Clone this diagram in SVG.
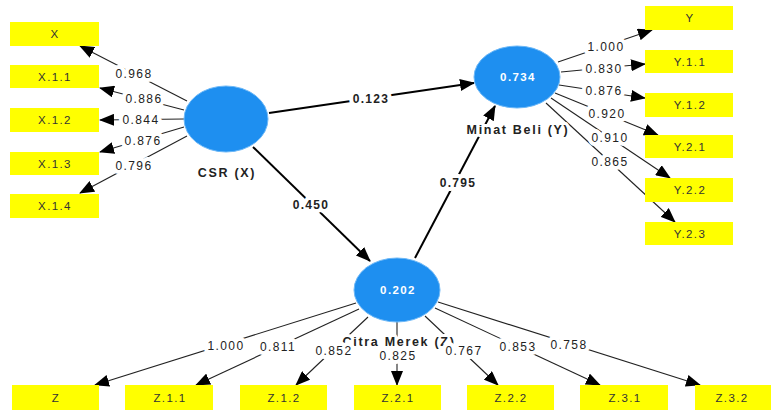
<svg xmlns="http://www.w3.org/2000/svg" width="771" height="410" viewBox="0 0 771 410">
<defs>
<marker id="ah" markerUnits="userSpaceOnUse" markerWidth="15" markerHeight="12" viewBox="0 0 15 12" refX="14" refY="6" orient="auto">
<path d="M0,0 L15,6 L0,12 Z" fill="#000"/>
</marker>
<style>
.box{fill:#ffff00;}
.bt{font-family:"Liberation Sans",Arial,sans-serif;font-size:11.5px;letter-spacing:1.4px;fill:#333;text-anchor:middle;}
.lv{fill:#1e8ff0;stroke:#6db8f7;stroke-width:1;}
.lvv{font-family:"Liberation Sans",Arial,sans-serif;font-size:11.5px;letter-spacing:1.4px;font-weight:bold;fill:#fff;text-anchor:middle;}
.lvn{font-family:"Liberation Sans",Arial,sans-serif;font-size:12.5px;letter-spacing:1.7px;font-weight:bold;fill:#222;text-anchor:middle;stroke:#fff;stroke-width:6;stroke-linejoin:round;paint-order:stroke;}
.ld{stroke:#222;stroke-width:1.1;fill:none;marker-end:url(#ah);}
.pc{stroke:#000;stroke-width:2;fill:none;marker-end:url(#ah);}
.lt{font-family:"Liberation Sans",Arial,sans-serif;font-size:12px;letter-spacing:1.4px;fill:#222;text-anchor:middle;stroke:#fff;stroke-width:8;stroke-linejoin:round;paint-order:stroke;}
.pt{font-family:"Liberation Sans",Arial,sans-serif;font-size:12px;letter-spacing:1.3px;font-weight:bold;fill:#222;text-anchor:middle;stroke:#fff;stroke-width:8;stroke-linejoin:round;paint-order:stroke;}
</style>
</defs>
<rect width="771" height="410" fill="#fff"/>

<g id="connectors">
<line class="ld" x1="187" y1="101" x2="80" y2="46"/>
<line class="ld" x1="184" y1="110" x2="100" y2="88"/>
<line class="ld" x1="184" y1="119" x2="100" y2="120"/>
<line class="ld" x1="184" y1="127" x2="100" y2="152"/>
<line class="ld" x1="187" y1="136" x2="80" y2="193"/>

<line class="ld" x1="558" y1="62" x2="652" y2="30"/>
<line class="ld" x1="561" y1="72" x2="645" y2="64"/>
<line class="ld" x1="559" y1="85" x2="645" y2="98"/>
<line class="ld" x1="555" y1="93" x2="658" y2="135"/>
<line class="ld" x1="551" y1="98" x2="670" y2="178"/>
<line class="ld" x1="546" y1="103" x2="675" y2="222"/>

<line class="ld" x1="356" y1="303" x2="95" y2="385"/>
<line class="ld" x1="359" y1="309" x2="196" y2="385"/>
<line class="ld" x1="368" y1="317" x2="296" y2="385"/>
<line class="ld" x1="397" y1="322" x2="397" y2="385"/>
<line class="ld" x1="425" y1="316" x2="498" y2="385"/>
<line class="ld" x1="435" y1="308" x2="600" y2="385"/>
<line class="ld" x1="438" y1="302" x2="700" y2="385"/>

<line class="pc" x1="269" y1="113" x2="474" y2="83"/>
<line class="pc" x1="253" y1="147" x2="370" y2="261"/>
<line class="pc" x1="415" y1="258" x2="495" y2="106"/>

<text class="lt" x="134" y="78">0.968</text>
<text class="lt" x="144" y="103">0.886</text>
<text class="lt" x="141" y="124">0.844</text>
<text class="lt" x="143" y="145">0.876</text>
<text class="lt" x="134" y="170">0.796</text>

<text class="lt" x="606" y="51">1.000</text>
<text class="lt" x="604" y="73">0.830</text>
<text class="lt" x="604" y="95">0.876</text>
<text class="lt" x="607" y="118">0.920</text>
<text class="lt" x="610" y="142">0.910</text>
<text class="lt" x="610" y="166">0.865</text>

<text class="pt" x="371" y="103">0.123</text>
<text class="pt" x="311" y="209">0.450</text>
<text class="pt" x="458" y="187">0.795</text>
</g>

<g id="node-Z">
<ellipse class="lv" cx="397" cy="290" rx="43" ry="32"/>
<text class="lvv" x="398" y="294">0.202</text>
<text class="lvn" x="399" y="346">Citra Merek (Z)</text>
</g>

<g id="bottom-labels">
<text class="lt" x="226" y="350">1.000</text>
<text class="lt" x="278" y="351">0.811</text>
<text class="lt" x="334" y="355">0.852</text>
<text class="lt" x="398" y="360">0.825</text>
<text class="lt" x="464" y="355">0.767</text>
<text class="lt" x="518" y="351">0.853</text>
<text class="lt" x="569" y="349">0.758</text>
</g>

<g id="node-X">
<ellipse class="lv" cx="226" cy="119" rx="42" ry="33"/>
<text class="lvn" x="227" y="177">CSR (X)</text>
</g>

<g id="node-Y">
<ellipse class="lv" cx="517" cy="77" rx="43" ry="31"/>
<text class="lvv" x="518" y="81">0.734</text>
<text class="lvn" x="518" y="134">Minat Beli (Y)</text>
</g>

<g id="ind-X"><rect class="box" x="10" y="22" width="89" height="24"/><text class="bt" x="55" y="38">X</text></g>
<g id="ind-X11"><rect class="box" x="10" y="65" width="89" height="23"/><text class="bt" x="55" y="81">X.1.1</text></g>
<g id="ind-X12"><rect class="box" x="10" y="108" width="89" height="24"/><text class="bt" x="55" y="124">X.1.2</text></g>
<g id="ind-X13"><rect class="box" x="10" y="152" width="89" height="23"/><text class="bt" x="55" y="168">X.1.3</text></g>
<g id="ind-X14"><rect class="box" x="10" y="194" width="89" height="24"/><text class="bt" x="55" y="210">X.1.4</text></g>

<g id="ind-Y"><rect class="box" x="645" y="6" width="88" height="24"/><text class="bt" x="690" y="22">Y</text></g>
<g id="ind-Y11"><rect class="box" x="645" y="50" width="88" height="23"/><text class="bt" x="690" y="66">Y.1.1</text></g>
<g id="ind-Y12"><rect class="box" x="645" y="93" width="88" height="24"/><text class="bt" x="690" y="109">Y.1.2</text></g>
<g id="ind-Y21"><rect class="box" x="645" y="135" width="88" height="23"/><text class="bt" x="690" y="151">Y.2.1</text></g>
<g id="ind-Y22"><rect class="box" x="645" y="178" width="88" height="24"/><text class="bt" x="690" y="194">Y.2.2</text></g>
<g id="ind-Y23"><rect class="box" x="645" y="222" width="88" height="23"/><text class="bt" x="690" y="238">Y.2.3</text></g>

<g id="ind-Z"><rect class="box" x="12" y="385" width="87" height="25"/><text class="bt" x="56" y="402">Z</text></g>
<g id="ind-Z11"><rect class="box" x="125" y="385" width="88" height="25"/><text class="bt" x="170" y="402">Z.1.1</text></g>
<g id="ind-Z12"><rect class="box" x="240" y="385" width="87" height="25"/><text class="bt" x="284" y="402">Z.1.2</text></g>
<g id="ind-Z21"><rect class="box" x="354" y="385" width="87" height="25"/><text class="bt" x="398" y="402">Z.2.1</text></g>
<g id="ind-Z22"><rect class="box" x="467" y="385" width="87" height="25"/><text class="bt" x="511" y="402">Z.2.2</text></g>
<g id="ind-Z31"><rect class="box" x="580" y="385" width="88" height="25"/><text class="bt" x="625" y="402">Z.3.1</text></g>
<g id="ind-Z32"><rect class="box" x="695" y="385" width="88" height="25"/><text class="bt" x="732" y="402">Z.3.2</text></g>
</svg>
